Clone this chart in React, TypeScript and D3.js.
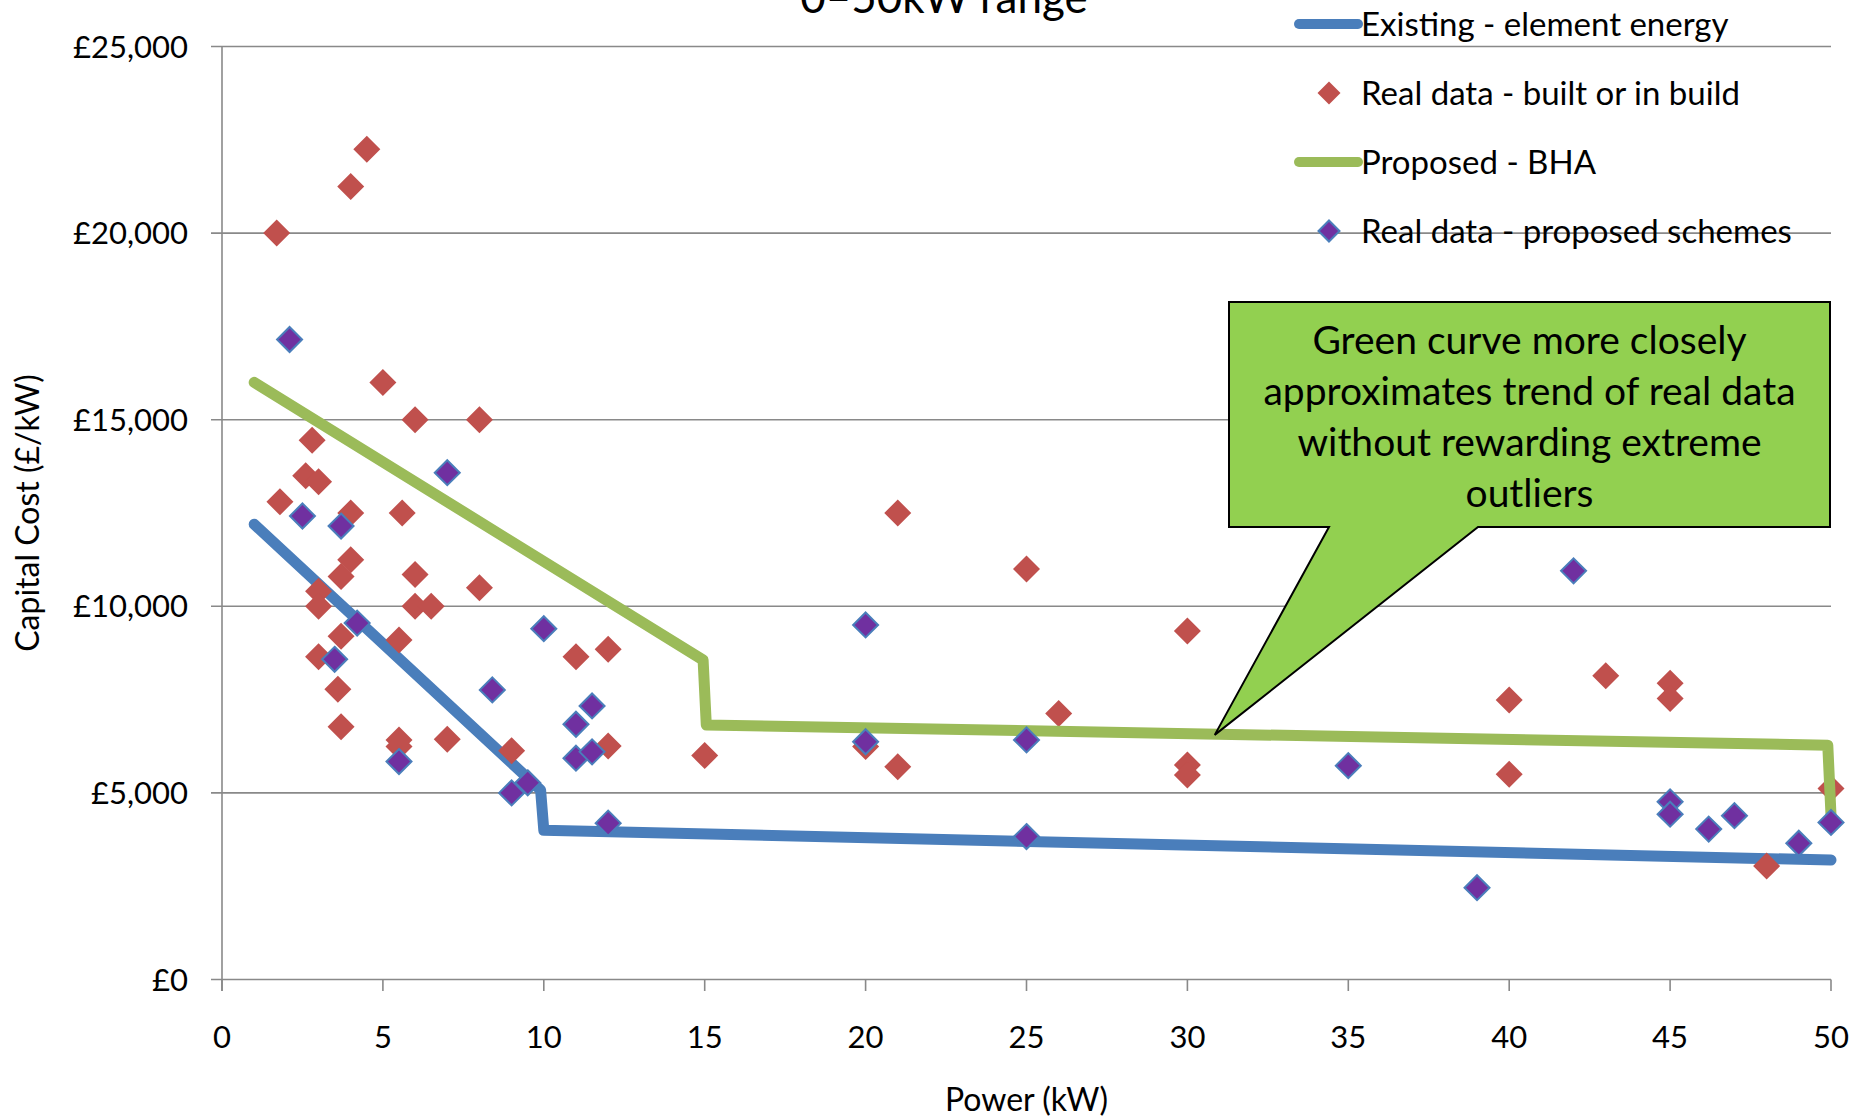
import React from "react";
import * as d3 from "d3";

// Axis ticks
const xTicks = [0, 5, 10, 15, 20, 25, 30, 35, 40, 45, 50];
const yTicks = [0, 5000, 10000, 15000, 20000, 25000];

// Tariff curves: [power kW, £/kW]
const existingCurve: [number, number][] = [
  [1, 12200], [9.9, 5080], [10, 4000], [50, 3200],
];
const proposedCurve: [number, number][] = [
  [1, 16000], [14.95, 8560], [15.05, 6820], [49.9, 6280], [50, 4400],
];

// Schemes built or in build
const builtSchemes: [number, number][] = [
  [1.7, 20000], [4.0, 21250], [4.5, 22250], [5.0, 16000], [6.0, 15000], [8.0, 15000],
  [2.8, 14450], [2.6, 13500], [3.0, 13340], [1.8, 12800], [4.0, 12500], [5.6, 12500],
  [4.0, 11250], [3.7, 10800], [6.0, 10850], [8.0, 10500], [3.0, 10400], [3.0, 10000],
  [6.0, 10000], [6.5, 10000], [3.7, 9200], [5.5, 9100], [3.0, 8650], [3.6, 7780],
  [3.7, 6770], [5.5, 6420], [5.5, 6240], [7.0, 6440], [9.0, 6130], [11.0, 8650],
  [12.0, 8850], [12.0, 6260], [15.0, 6000], [20.0, 6240], [21.0, 12500], [21.0, 5700],
  [25.0, 11000], [26.0, 7130], [30.0, 9340], [30.0, 5750], [30.0, 5480], [40.0, 7490],
  [40.0, 5500], [43.0, 8140], [45.0, 7940], [45.0, 7530], [48.0, 3040], [50.0, 5120],
];

// Proposed schemes
const proposedSchemes: [number, number][] = [
  [2.1, 17150], [7.0, 13580], [2.5, 12420], [3.7, 12150], [4.2, 9550], [10.0, 9400],
  [3.5, 8580], [8.4, 7760], [11.5, 7330], [11.0, 6840], [5.5, 5840], [11.0, 5930],
  [11.5, 6100], [9.0, 5000], [9.5, 5270], [12.0, 4190], [20.0, 9500], [20.0, 6370],
  [25.0, 6420], [25.0, 3830], [35.0, 5730], [39.0, 2460], [42.0, 10950], [45.0, 4760],
  [45.0, 4430], [46.2, 4030], [47.0, 4390], [49.0, 3650], [50.0, 4210],
];

const legendLabels = [
  "Existing - element energy",
  "Real data - built or in build",
  "Proposed - BHA",
  "Real data - proposed schemes",
];

const calloutLines = [
  "Green curve more closely",
  "approximates trend of real data",
  "without rewarding extreme",
  "outliers",
];
// point on the green curve the callout refers to
const calloutTarget: [number, number] = [30.85, 6555];

const W = 1867;
const H = 1119;
const FONT = "Lato, 'Open Sans', 'DejaVu Sans', sans-serif";
const GRID = "#898989";
const BLUE = "#4A7EBB";
const GREEN = "#9BBB59";
const RED = "#C0504D";
const PURPLE = "#7030A0";

const diamond = (r: number) => `M0,${-r}L${r},0L0,${r}L${-r},0Z`;

export default function App() {
  const x = d3.scaleLinear().domain([0, 50]).range([222, 1831]);
  const y = d3.scaleLinear().domain([0, 25000]).range([979.5, 46.5]);
  const line = d3
    .line<[number, number]>()
    .x((d) => x(d[0]))
    .y((d) => y(d[1]));
  const money = (v: number) => "£" + d3.format(",")(v);

  const [tx, ty] = [x(calloutTarget[0]), y(calloutTarget[1])];
  const box = { x0: 1229, y0: 302, x1: 1830, y1: 527 };
  const calloutPath =
    `M${box.x0},${box.y0}H${box.x1}V${box.y1}H1478L${tx},${ty}L1329,${box.y1}H${box.x0}Z`;

  const legendY = [24, 93, 162, 231];

  return (
    <div style={{ position: "absolute", left: 0, top: 0 }}>
      <svg width={W} height={H} style={{ display: "block", background: "#fff" }} fontFamily={FONT}>
        {/* gridlines */}
        {yTicks.map((t) => (
          <line key={"g" + t} x1={211} x2={1831} y1={y(t)} y2={y(t)} stroke={GRID} strokeWidth={1.6} />
        ))}
        {/* y axis */}
        <line x1={222} x2={222} y1={y(25000)} y2={991} stroke={GRID} strokeWidth={1.6} />
        {xTicks.map((t) => (
          <line key={"xt" + t} x1={x(t)} x2={x(t)} y1={y(0)} y2={991} stroke={GRID} strokeWidth={1.6} />
        ))}
        {yTicks.map((t) => (
          <text key={"yl" + t} x={188} y={y(t) + 11} textAnchor="end" fontSize={31} fill="#000">
            {money(t)}
          </text>
        ))}
        {xTicks.map((t) => (
          <text key={"xl" + t} x={x(t)} y={1048} textAnchor="middle" fontSize={31} fill="#000">
            {t}
          </text>
        ))}
        <text x={(x(0) + x(50)) / 2} y={1111} textAnchor="middle" fontSize={32} fill="#000">
          Power (kW)
        </text>
        <text
          transform={`translate(39,${(y(0) + y(25000)) / 2}) rotate(-90)`}
          textAnchor="middle"
          fontSize={32}
          fill="#000"
        >
          Capital Cost (£/kW)
        </text>
        <text x={944} y={13} textAnchor="middle" fontSize={44} fill="#000">
          0–50kW range
        </text>

        {/* series */}
        <path d={line(existingCurve) || ""} fill="none" stroke={BLUE} strokeWidth={11} strokeLinejoin="round" strokeLinecap="round" />
        {builtSchemes.map((d, i) => (
          <path key={"b" + i} d={diamond(13.5)} transform={`translate(${x(d[0])},${y(d[1])})`} fill={RED} />
        ))}
        <path d={line(proposedCurve) || ""} fill="none" stroke={GREEN} strokeWidth={11} strokeLinejoin="round" strokeLinecap="round" />
        {proposedSchemes.map((d, i) => (
          <path key={"p" + i} d={diamond(12.5)} transform={`translate(${x(d[0])},${y(d[1])})`} fill={PURPLE} stroke={BLUE} strokeWidth={2} />
        ))}

        {/* legend */}
        <line x1={1299} x2={1358} y1={legendY[0]} y2={legendY[0]} stroke={BLUE} strokeWidth={10} strokeLinecap="round" />
        <path d={diamond(11.5)} transform={`translate(1329,${legendY[1]})`} fill={RED} />
        <line x1={1299} x2={1358} y1={legendY[2]} y2={legendY[2]} stroke={GREEN} strokeWidth={10} strokeLinecap="round" />
        <path d={diamond(10.5)} transform={`translate(1329,${legendY[3]})`} fill={PURPLE} stroke={BLUE} strokeWidth={2} />
        {legendLabels.map((l, i) => (
          <text key={"ll" + i} x={1361} y={legendY[i] + 12} fontSize={33} fill="#000">
            {l}
          </text>
        ))}

        {/* callout */}
        <path d={calloutPath} fill="#92D050" stroke="#000" strokeWidth={2} strokeLinejoin="miter" />
        {calloutLines.map((l, i) => (
          <text key={"c" + i} x={(box.x0 + box.x1) / 2} y={354 + i * 51} textAnchor="middle" fontSize={39} fill="#000">
            {l}
          </text>
        ))}
      </svg>
    </div>
  );
}
